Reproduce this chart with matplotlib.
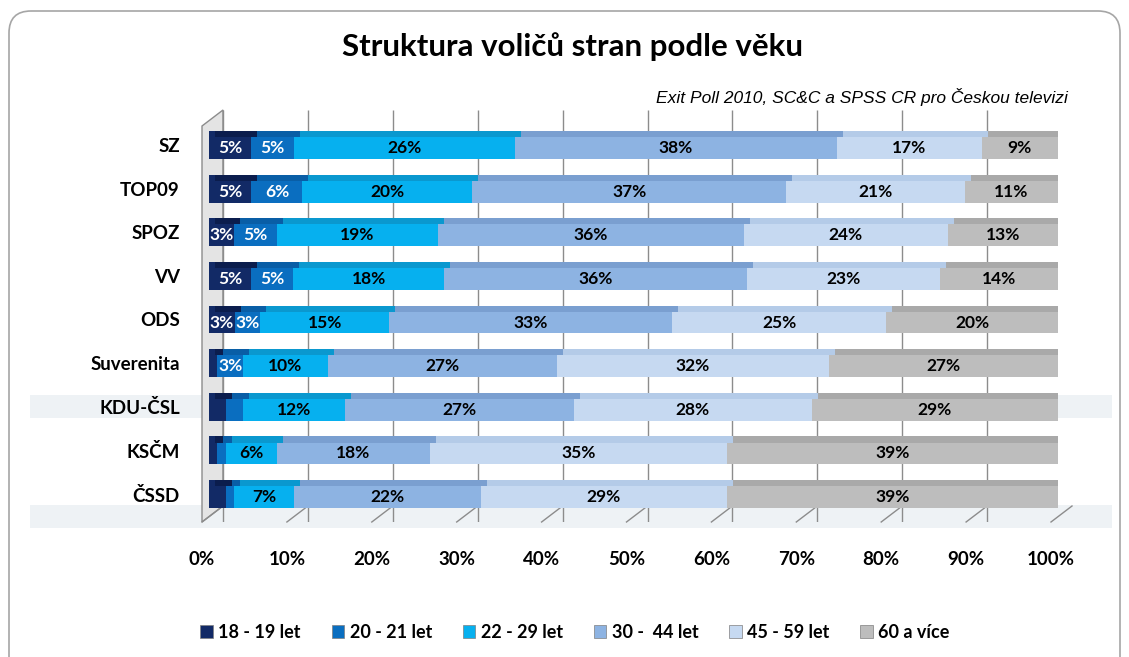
import matplotlib
matplotlib.use("Agg")
import matplotlib.pyplot as plt
import numpy as np
from matplotlib.transforms import ScaledTranslation
from matplotlib.patches import FancyBboxPatch, Rectangle, Polygon

# ---------------- data ----------------
parties = ["SZ", "TOP09", "SPOZ", "VV", "ODS", "Suverenita", "KDU-ČSL", "KSČM", "ČSSD"]
age_groups = ["18 - 19 let", "20 - 21 let", "22 - 29 let", "30 -  44 let", "45 - 59 let", "60 a více"]
age_18_19 = [5, 5, 3, 5, 3, 1, 2, 1, 2]
age_20_21 = [5, 6, 5, 5, 3, 3, 2, 1, 1]
age_22_29 = [26, 20, 19, 18, 15, 10, 12, 6, 7]
age_30_44 = [38, 37, 36, 36, 33, 27, 27, 18, 22]
age_45_59 = [17, 21, 24, 23, 25, 32, 28, 35, 29]
age_60_plus = [9, 11, 13, 14, 20, 27, 29, 39, 39]
x_ticks = [0, 10, 20, 30, 40, 50, 60, 70, 80, 90, 100]
x_tick_labels = ["0%", "10%", "20%", "30%", "40%", "50%", "60%", "70%", "80%", "90%", "100%"]
title = "Struktura voličů stran podle věku"
subtitle = "Exit Poll 2010, SC&C a SPSS CR pro Českou televizi"

series = [age_18_19, age_20_21, age_22_29, age_30_44, age_45_59, age_60_plus]
colors = ["#122a66", "#0a6ec0", "#06b0ef", "#8db3e2", "#c6d9f1", "#bdbdbd"]
top_colors = ["#0b1d4d", "#095ea6", "#0a98cf", "#7a9fd0", "#b4cbe8", "#a9a9a9"]
text_colors = ["white", "white", "black", "black", "black", "black"]

W, H = 1129, 657
fig = plt.figure(figsize=(W / 100, H / 100), dpi=100)
fig.patch.set_facecolor("white")

# overlay axes in pixel coordinates for decoration
bg = fig.add_axes([0, 0, 1, 1], zorder=0)
bg.set_xlim(0, W)
bg.set_ylim(H, 0)
bg.axis("off")
# watermark bands
bg.add_patch(Rectangle((30, 395), 1082, 23, facecolor="#eef2f5", edgecolor="none"))
bg.add_patch(Rectangle((30, 505), 1082, 23, facecolor="#eef2f5", edgecolor="none"))
# outer rounded frame
bg.add_patch(FancyBboxPatch((9, 11), 1111, 680, boxstyle="round,pad=0,rounding_size=22",
                            facecolor="none", edgecolor="#a6a6a6", lw=1.2))

FONT = "Lato"

# main axes: front face of bars from x=209 to x=1058 px, y from 110 to 522 px
left_px, right_px, top_px, bot_px = 209, 1058, 110, 522
ax = fig.add_axes([left_px / W, 1 - bot_px / H, (right_px - left_px) / W, (bot_px - top_px) / H],
                  zorder=2)
ax.patch.set_alpha(0)
n = len(parties)
ypos = np.arange(n)
ax.set_xlim(0, 100)
ax.set_ylim(8.64, -0.80)
for s in ax.spines.values():
    s.set_visible(False)

dpi = fig.dpi
back = ScaledTranslation(14 / dpi, 0, fig.dpi_scale_trans)
front = ScaledTranslation(-7 / dpi, 0, fig.dpi_scale_trans)

# back wall gridlines
ax.vlines(x_ticks, 0, 1, transform=ax.get_xaxis_transform() + back,
          colors="#8c8c8c", lw=1.0, zorder=0)
# left wall and floor lines drawn in pixel coordinates of overlay
fig.canvas.draw()
to_px = lambda xv: ax.transData.transform((xv, 0))[0]
x0 = to_px(0)
bg.add_patch(Polygon([(x0 - 7, bot_px + 0), (x0 + 14, bot_px - 16), (x0 + 14, top_px),
                      (x0 - 7, top_px + 16)], closed=True, facecolor="#e4e4e4",
                     edgecolor="#8c8c8c", lw=1.0, zorder=1))
for t in x_ticks:
    xp = to_px(t)
    bg.plot([xp - 7, xp + 14], [bot_px, bot_px - 16], color="#8c8c8c", lw=1.0, zorder=1)

# 100 % stacked: normalise each row to its total (as the original chart does)
data = np.array(series, dtype=float)
totals = data.sum(axis=0)
shares = data / totals * 100

bar_h = 0.64
left = np.zeros(n)
for k, (c, tc, txtc) in enumerate(zip(colors, top_colors, text_colors)):
    vals = shares[k]
    raw = data[k]
    ax.barh(ypos, vals, left=left, height=bar_h, color=c, edgecolor="none",
            label=age_groups[k], zorder=3)
    # top 3D face
    ax.barh(ypos - bar_h / 2 + 0.07, vals, left=left + 0.7, height=0.14, color=tc,
            edgecolor="none", zorder=3.5)
    for i in range(n):
        if raw[i] >= 3:
            ax.text(left[i] + vals[i] / 2, ypos[i] + 0.07, f"{int(raw[i])}%",
                    ha="center", va="center", fontsize=12.5, fontweight="bold",
                    color=txtc, family=FONT, zorder=5)
    left += vals
# end caps
ax.barh(ypos, 0.6, left=left, height=bar_h, color="#9a9a9a", edgecolor="none", zorder=3)

ax.set_yticks(ypos)
ax.set_yticklabels(parties, fontsize=13.5, fontweight="bold", family=FONT)
ax.tick_params(axis="y", length=0, pad=21)
ax.set_xticks(x_ticks)
ax.set_xticklabels(x_tick_labels, fontsize=13.5, fontweight="bold", family=FONT)
ax.tick_params(axis="x", length=0, pad=21)
for lab in ax.get_xticklabels():
    lab.set_transform(lab.get_transform() + front)

fig.text(572 / W, 1 - 47 / H, title, ha="center", va="center", fontsize=22.5,
         fontweight="bold", family=FONT)
fig.text(1068 / W, 1 - 97 / H, subtitle, ha="right", va="center", fontsize=12.5,
         style="italic", family="Liberation Sans")

handles = [Rectangle((0, 0), 1, 1, facecolor=c, edgecolor="#7f7f7f", lw=0.5) for c in colors]
fig.legend(handles, age_groups, loc="center", bbox_to_anchor=(575 / W, 1 - 632 / H),
           ncol=6, frameon=False, prop={"family": FONT, "weight": "bold", "size": 13},
           handlelength=0.7, handleheight=0.7, handletextpad=0.3, columnspacing=1.7)

fig.savefig("out.png", dpi=100)
